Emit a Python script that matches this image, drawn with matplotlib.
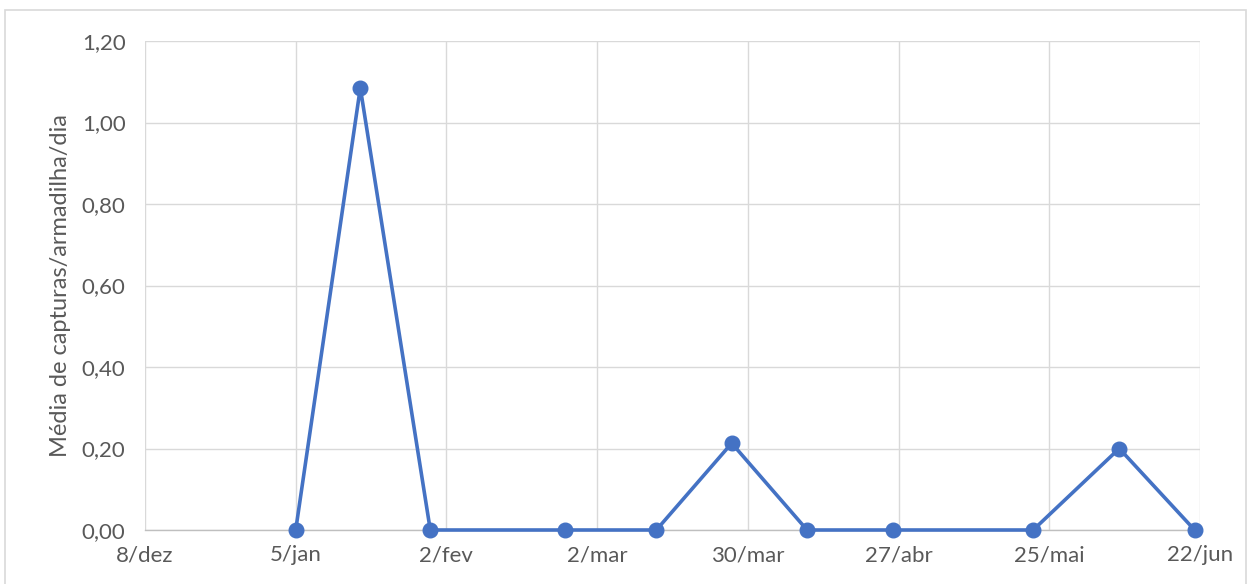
import datetime as dt
import matplotlib
matplotlib.use("Agg")
import matplotlib.pyplot as plt
from matplotlib.patches import Rectangle

# data
dates = ["2019-01-05", "2019-01-17", "2019-01-30", "2019-02-24", "2019-03-13",
         "2019-03-27", "2019-04-10", "2019-04-26", "2019-05-22", "2019-06-07",
         "2019-06-21"]
values = [0.0, 1.085, 0.0, 0.0, 0.0, 0.213, 0.0, 0.0, 0.0, 0.20, 0.0]

tick_dates = ["2018-12-08", "2019-01-05", "2019-02-02", "2019-03-02",
              "2019-03-30", "2019-04-27", "2019-05-25", "2019-06-22"]
tick_labels = ["8/dez", "5/jan", "2/fev", "2/mar", "30/mar", "27/abr", "25/mai", "22/jun"]
y_ticks = [0.0, 0.2, 0.4, 0.6, 0.8, 1.0, 1.2]
y_labels = ["0,00", "0,20", "0,40", "0,60", "0,80", "1,00", "1,20"]

plt.rcParams["font.family"] = ["Lato", "DejaVu Sans"]
txt = "#595959"
grid = "#D9D9D9"

x = [dt.datetime.strptime(d, "%Y-%m-%d") for d in dates]
xt = [dt.datetime.strptime(d, "%Y-%m-%d") for d in tick_dates]

fig = plt.figure(figsize=(12.51, 5.84), dpi=100)
fig.patches.append(Rectangle((5 / 1251, -0.01), 1241 / 1251, 1 - 10 / 584 + 0.01,
                             transform=fig.transFigure, fill=False,
                             edgecolor="#D9D9D9", linewidth=1.2))
ax = fig.add_axes([145 / 1251, 54 / 584, 1055 / 1251, 489 / 584])

ax.plot(x, values, color="#4472C4", linewidth=2.6, marker="o", markersize=10.5,
        zorder=3, clip_on=False)

ax.set_xlim(xt[0], xt[-1])
ax.set_ylim(0, 1.2)
ax.set_xticks(xt)
ax.set_xticklabels(tick_labels)
ax.set_yticks(y_ticks)
ax.set_yticklabels(y_labels)

ax.grid(True, color=grid, linewidth=1.0)
ax.set_axisbelow(True)
for s in ["top", "right", "left"]:
    ax.spines[s].set_visible(False)
ax.spines["bottom"].set_color("#BFBFBF")
ax.spines["bottom"].set_linewidth(1.0)
ax.tick_params(length=0, labelsize=16, colors=txt, pad=11)
ax.tick_params(axis="y", pad=14)
ax.set_ylabel("Média de capturas/armadilha/dia", fontsize=17, color=txt, labelpad=8)

fig.savefig("out.png", dpi=100)
